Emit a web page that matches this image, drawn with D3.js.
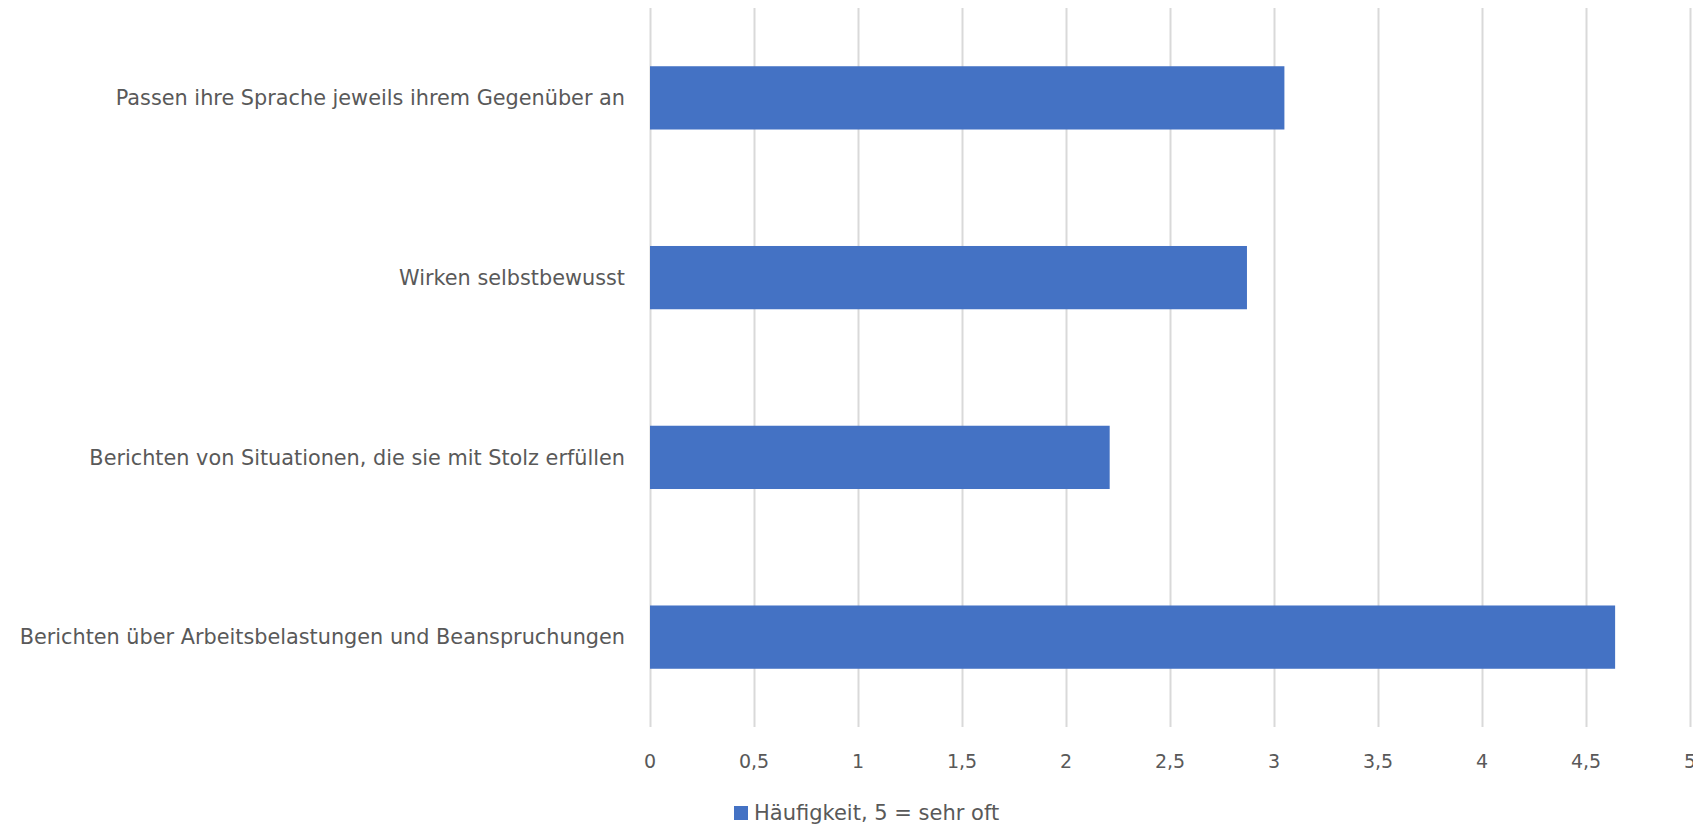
<html>
<head>
<script src="https://d3js.org/d3.v7.min.js"></script>
<style>
    body { margin: 0; background: #fff; }
    svg { display: block; overflow: hidden; }
    .gridlines line { stroke: #d9d9d9; stroke-width: 2; }
    .gridlines .domain { stroke: none; }
    .tick-label, .cat-label, .legend-text {
        fill: #595959;
        font-family: "DejaVu Sans", Verdana, sans-serif;
    }
</style>
</head>
<body>
<svg id="chart" width="1693" height="828"></svg>
<script>
    // data
    const categories = [
        "Passen ihre Sprache jeweils ihrem Gegenüber an",
        "Wirken selbstbewusst",
        "Berichten von Situationen, die sie mit Stolz erfüllen",
        "Berichten über Arbeitsbelastungen und Beanspruchungen"
    ];
    const values = [3.05, 2.87, 2.21, 4.64];
    const xTicks = [0, 0.5, 1, 1.5, 2, 2.5, 3, 3.5, 4, 4.5, 5];
    const seriesName = "Häufigkeit, 5 = sehr oft";

    const svg = d3.select("svg#chart");
    const margins = {top: 8, left: 650, right: 3, bottom: 101};
    const chartWidth = 1690 - margins.left;
    const chartHeight = 727 - margins.top;

    const xScale = d3.scaleLinear().domain([0, 5]).range([margins.left, margins.left + chartWidth]);
    const yScale = d3.scaleBand().domain(categories)
                    .range([margins.top, margins.top + chartHeight])
                    .paddingInner(0.648).paddingOuter(0.324);

    // vertical gridlines
    const grid = d3.axisBottom(xScale).tickValues(xTicks)
                    .tickSize(-chartHeight).tickFormat("");
    svg.append("g")
        .attr("class", "gridlines")
        .attr("transform", `translate(0,${margins.top + chartHeight})`)
        .call(grid);

    // tick labels (the last one is cut by the right edge, as in the original)
    const fmt = d => String(d).replace(".", ",");
    svg.append("g").selectAll("text")
        .data(xTicks)
        .join("text")
        .attr("class", "tick-label")
        .attr("x", d => xScale(d))
        .attr("y", 761)
        .attr("dy", "0.35em")
        .attr("text-anchor", "middle")
        .style("font-size", "19px")
        .text(fmt);

    // bars
    svg.append("g").selectAll("rect")
        .data(values)
        .join("rect")
        .attr("x", xScale(0))
        .attr("y", (d, i) => yScale(categories[i]))
        .attr("width", d => xScale(d) - xScale(0))
        .attr("height", yScale.bandwidth())
        .attr("fill", "#4472c4");

    // category labels
    svg.append("g").selectAll("text")
        .data(categories)
        .join("text")
        .attr("class", "cat-label")
        .attr("x", 625)
        .attr("y", d => yScale(d) + yScale.bandwidth() / 2)
        .attr("dy", "0.35em")
        .attr("text-anchor", "end")
        .style("font-size", "20.8px")
        .text(d => d);

    // legend
    const legend = svg.append("g").attr("transform", "translate(734,806)");
    legend.append("rect")
        .attr("width", 14).attr("height", 14)
        .attr("fill", "#4472c4");
    legend.append("text")
        .attr("class", "legend-text")
        .attr("x", 20).attr("y", 7)
        .attr("dy", "0.35em")
        .style("font-size", "21px")
        .text(seriesName);
</script>
</body>
</html>
